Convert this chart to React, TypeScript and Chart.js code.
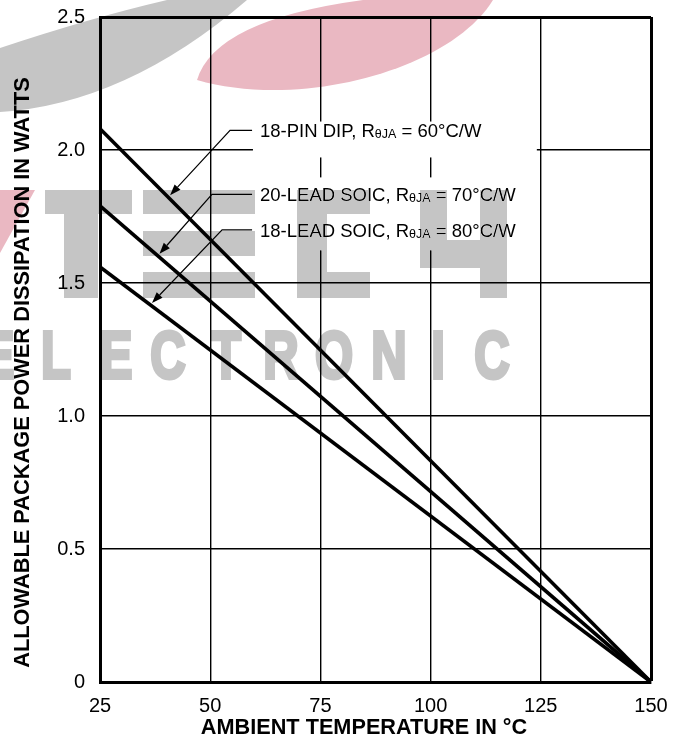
import React, { useEffect, useRef } from 'react';
import { Chart, registerables } from 'chart.js';

Chart.register(...registerables);

// ---- data ----
const temperatures = [25, 150];
const dip18Watts = [2.08, 0];
const soic20Watts = [1.79, 0];
const soic18Watts = [1.56, 0];

const xTicks = [25, 50, 75, 100, 125, 150];
const yTicks = [0, 0.5, 1.0, 1.5, 2.0, 2.5];

const seriesNames = ['18-PIN DIP', '20-LEAD SOIC', '18-LEAD SOIC'];
const thetaJA = ['60', '70', '80'];

const xTitle = 'AMBIENT TEMPERATURE IN °C';
const yTitle = 'ALLOWABLE PACKAGE POWER DISSIPATION IN WATTS';

// callout geometry in data units (temperature, watts)
const calloutTextAt = [[61.3, 2.074], [61.3, 1.833], [61.3, 1.70]];
const calloutStartT = 59.5;
const calloutElbow = [[54.5, 2.074], [50.4, 1.833], [52.7, 1.70]];
const calloutTip = [[40.9, 1.83], [38.5, 1.61], [36.8, 1.425]];
// white masks behind callout text (t0, t1, p0, p1)
const calloutMasks = [[59.7, 124.1, 2.107, 1.972], [59.7, 124.1, 1.897, 1.623]];

const FONT = '"Liberation Sans", Arial, Helvetica, sans-serif';

function drawWatermark(ctx: CanvasRenderingContext2D) {
  ctx.save();
  ctx.globalCompositeOperation = 'darken';
  const gray = 'rgb(197,197,197)';
  const pink = 'rgb(234,184,194)';

  // gray arc band
  ctx.fillStyle = gray;
  ctx.beginPath();
  ctx.moveTo(167, 0);
  ctx.quadraticCurveTo(90, 18, 0, 48);
  ctx.lineTo(0, 112);
  ctx.quadraticCurveTo(126, 104, 247, 0);
  ctx.closePath();
  ctx.fill();

  // pink arc band
  ctx.fillStyle = pink;
  ctx.beginPath();
  ctx.moveTo(363, 0);
  ctx.lineTo(493, 0);
  ctx.bezierCurveTo(450, 70, 300, 110, 197, 80);
  ctx.quadraticCurveTo(215, 20, 363, 0);
  ctx.closePath();
  ctx.fill();

  // pink wedge on the left
  ctx.beginPath();
  ctx.moveTo(0, 190);
  ctx.lineTo(35, 190);
  ctx.lineTo(0, 253);
  ctx.closePath();
  ctx.fill();

  // TECH blocks
  ctx.fillStyle = gray;
  const rects = [
    // T
    [45, 190, 87, 24], [64, 190, 34, 108],
    // E
    [143, 190, 112, 24], [143, 231, 112, 25], [143, 272, 112, 26],
    // C
    [297, 190, 73, 24], [297, 190, 30, 108], [297, 272, 73, 26],
    // H
    [420, 190, 27, 72], [420, 240, 87, 28], [480, 190, 27, 108],
  ];
  rects.forEach(([x, y, w, h]) => ctx.fillRect(x, y, w, h));

  // ELECTRONIC
  ctx.font = `bold 70px ${FONT}`;
  ctx.textAlign = 'center';
  ctx.textBaseline = 'alphabetic';
  ctx.strokeStyle = gray;
  ctx.lineWidth = 4;
  ctx.lineJoin = 'miter';
  const letters = ['E', 'L', 'E', 'C', 'T', 'R', 'O', 'N', 'I', 'C'];
  const centers = [-2, 56, 116, 168, 226, 281, 334, 389, 438, 492];
  letters.forEach((ch, i) => {
    ctx.save();
    ctx.translate(centers[i], 378);
    ctx.scale(0.7, 0.96);
    ctx.fillText(ch, 0, 0);
    ctx.strokeText(ch, 0, 0);
    ctx.restore();
  });
  ctx.restore();
}

const annotationPlugin = {
  id: 'annotations',
  beforeDatasetsDraw(chart: any) {
    const { ctx, scales } = chart;
    const xs = scales.x, ys = scales.y;
    ctx.save();
    ctx.fillStyle = '#ffffff';
    calloutMasks.forEach(([t0, t1, p0, p1]) => {
      const x0 = xs.getPixelForValue(t0), x1 = xs.getPixelForValue(t1);
      const y0 = ys.getPixelForValue(p0), y1 = ys.getPixelForValue(p1);
      ctx.fillRect(x0, y0, x1 - x0, y1 - y0);
    });
    ctx.restore();
  },
  afterDatasetsDraw(chart: any) {
    const { ctx, scales } = chart;
    const xs = scales.x, ys = scales.y;
    ctx.save();
    ctx.strokeStyle = '#000';
    ctx.fillStyle = '#000';
    ctx.lineWidth = 1.2;
    for (let i = 0; i < seriesNames.length; i++) {
      const yText = ys.getPixelForValue(calloutTextAt[i][1]);
      const xStart = xs.getPixelForValue(calloutStartT);
      const ex = xs.getPixelForValue(calloutElbow[i][0]);
      const ey = ys.getPixelForValue(calloutElbow[i][1]);
      const tx = xs.getPixelForValue(calloutTip[i][0]);
      const ty = ys.getPixelForValue(calloutTip[i][1]);
      // leader
      ctx.beginPath();
      ctx.moveTo(xStart, ey);
      ctx.lineTo(ex, ey);
      const ang = Math.atan2(ty - ey, tx - ex);
      const len = 11, hw = 4;
      const bx = tx - len * Math.cos(ang), by = ty - len * Math.sin(ang);
      ctx.lineTo(bx, by);
      ctx.stroke();
      // arrow head
      ctx.beginPath();
      ctx.moveTo(tx, ty);
      ctx.lineTo(bx + hw * Math.sin(ang), by - hw * Math.cos(ang));
      ctx.lineTo(bx - hw * Math.sin(ang), by + hw * Math.cos(ang));
      ctx.closePath();
      ctx.fill();

      // text
      let x = xs.getPixelForValue(calloutTextAt[i][0]);
      const base = yText + 6.7;
      ctx.textAlign = 'left';
      ctx.textBaseline = 'alphabetic';
      ctx.font = `18.5px ${FONT}`;
      const s1 = `${seriesNames[i]}, R`;
      ctx.fillText(s1, x, base);
      x += ctx.measureText(s1).width;
      ctx.font = `12.5px ${FONT}`;
      const s2 = 'θJA';
      ctx.fillText(s2, x, base + 1);
      x += ctx.measureText(s2).width;
      ctx.font = `18.5px ${FONT}`;
      ctx.fillText(` = ${thetaJA[i]}°C/W`, x, base);
    }

    // axis titles
    ctx.font = `bold 21.7px ${FONT}`;
    ctx.textAlign = 'center';
    ctx.textBaseline = 'middle';
    ctx.fillText(xTitle, 364, 728);
    ctx.save();
    ctx.translate(23, 372.5);
    ctx.rotate(-Math.PI / 2);
    ctx.font = `bold 21.8px ${FONT}`;
    ctx.fillText(yTitle, 0, 0);
    ctx.restore();
    ctx.restore();
  },
  afterDraw(chart: any) {
    drawWatermark(chart.ctx);
  },
};

export default function App() {
  const canvasRef = useRef<HTMLCanvasElement | null>(null);

  useEffect(() => {
    if (!canvasRef.current) return;
    const mk = (vals: number[]) => temperatures.map((t, i) => ({ x: t, y: vals[i] }));
    const lineStyle = {
      borderColor: '#000',
      borderWidth: 3.6,
      pointRadius: 0,
      fill: false,
      tension: 0,
      borderCapStyle: 'butt' as const,
    };
    const chart = new Chart(canvasRef.current, {
      type: 'line',
      data: {
        datasets: [
          { label: seriesNames[0], data: mk(dip18Watts), ...lineStyle },
          { label: seriesNames[1], data: mk(soic20Watts), ...lineStyle },
          { label: seriesNames[2], data: mk(soic18Watts), ...lineStyle },
        ],
      },
      options: {
        responsive: false,
        animation: false,
        devicePixelRatio: 1,
        layout: { padding: { top: 17, right: 38, left: 0, bottom: 0 } },
        plugins: {
          legend: { display: false },
          tooltip: { enabled: false },
          title: { display: false },
        },
        scales: {
          x: {
            type: 'linear',
            min: 25,
            max: 150,
            afterBuildTicks: (scale: any) => {
              scale.ticks = xTicks.map((v) => ({ value: v }));
            },
            afterFit: (scale: any) => {
              scale.height = 65;
              scale.paddingLeft = 0;
              scale.paddingRight = 0;
            },
            grid: {
              color: '#000',
              lineWidth: (c: any) => (c.tick && c.tick.value === 150 ? 3 : 1.4),
              drawTicks: false,
            },
            border: { display: true, color: '#000', width: 3 },
            ticks: {
              color: '#000',
              padding: 12,
              maxRotation: 0,
              font: { family: FONT, size: 20 },
              callback: (v: any) => String(v),
            },
          },
          y: {
            type: 'linear',
            min: 0,
            max: 2.5,
            afterBuildTicks: (scale: any) => {
              scale.ticks = yTicks.map((v) => ({ value: v }));
            },
            afterFit: (scale: any) => {
              scale.width = 100;
              scale.paddingTop = 0;
              scale.paddingBottom = 0;
            },
            grid: {
              color: '#000',
              lineWidth: (c: any) => (c.tick && c.tick.value === 2.5 ? 3 : 1.4),
              drawTicks: false,
            },
            border: { display: true, color: '#000', width: 3 },
            ticks: {
              color: '#000',
              padding: 15,
              font: { family: FONT, size: 20 },
              callback: (v: any) => (Number(v) === 0 ? '0' : Number(v).toFixed(1)),
            },
          },
        },
      },
      plugins: [annotationPlugin],
    } as any);
    return () => chart.destroy();
  }, []);

  return (
    <div style={{ position: 'absolute', left: 0, top: 0, width: 689, height: 747, background: '#fff' }}>
      <canvas ref={canvasRef} width={689} height={747} style={{ display: 'block' }} />
    </div>
  );
}
